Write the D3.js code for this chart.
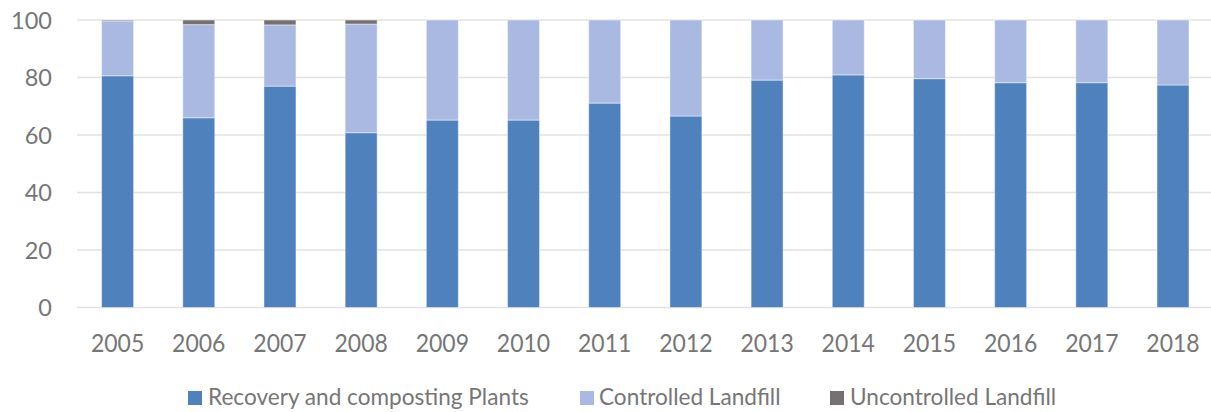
<!DOCTYPE html>
<html>
<head>
<meta charset="utf-8">
<script src="https://cdn.jsdelivr.net/npm/d3@7"></script>
<style>
  html, body { margin: 0; padding: 0; background: #fff; }
  svg { display: block; }
  text { font-family: Lato, "Open Sans", sans-serif; fill: #767676; }
</style>
</head>
<body>
<svg id="chart" width="1211" height="412"></svg>
<script>
// Share of waste by treatment route (%), 2005–2018
const years = ["2005","2006","2007","2008","2009","2010","2011","2012","2013","2014","2015","2016","2017","2018"];
const recovery     = [80.6, 66.0, 77.0, 60.8, 65.2, 65.2, 71.1, 66.6, 79.1, 80.9, 79.6, 78.2, 78.2, 77.4];
const controlled   = [19.1, 32.4, 21.3, 37.8, 34.8, 34.8, 28.9, 33.4, 20.9, 19.1, 20.4, 21.8, 21.8, 22.6];
const uncontrolled = [0.3, 1.6, 1.7, 1.4, 0, 0, 0, 0, 0, 0, 0, 0, 0, 0];
const seriesNames  = ["Recovery and composting Plants", "Controlled Landfill", "Uncontrolled Landfill"];
const yTicks       = [0, 20, 40, 60, 80, 100];

const colors = ["#4F81BD", "#A9B9E2", "#767171"];
const keys = ["rec", "ctl", "unc"];

const rows = years.map((y, i) => ({ year: y, rec: recovery[i], ctl: controlled[i], unc: uncontrolled[i] }));
const stacked = d3.stack().keys(keys)(rows);

const svg = d3.select("#chart");
const W = 1211;
const plot = { left: 77, right: 1213.6, top: 20, bottom: 307.5 };

const x = d3.scaleBand().domain(years).range([plot.left, plot.right]).paddingInner(0.606).paddingOuter(0.303);
const y = d3.scaleLinear().domain([0, 100]).range([plot.bottom, plot.top]);

// Horizontal gridlines
svg.append("g")
  .selectAll("line")
  .data(yTicks)
  .join("line")
  .attr("x1", plot.left)
  .attr("x2", W)
  .attr("y1", d => y(d))
  .attr("y2", d => y(d))
  .attr("stroke", "#e2e2e2")
  .attr("stroke-width", 1.6);

// Y axis labels
const yAxis = d3.axisLeft(y).tickValues(yTicks).tickSize(0).tickPadding(0);
const gy = svg.append("g").attr("transform", "translate(52,0)").call(yAxis);
gy.select(".domain").remove();
gy.selectAll("text")
  .attr("font-size", 23.5)
  .attr("font-family", "Lato, 'Open Sans', sans-serif")
  .attr("fill", "#767676")
  .attr("dy", "0.36em");

// Stacked bars
svg.append("g")
  .selectAll("g")
  .data(stacked)
  .join("g")
  .attr("fill", (d, i) => colors[i])
  .selectAll("rect")
  .data(d => d)
  .join("rect")
  .attr("x", d => x(d.data.year))
  .attr("width", x.bandwidth())
  .attr("y", d => y(d[1]))
  .attr("height", d => Math.max(0, y(d[0]) - y(d[1])))
  .attr("stroke", "#ffffff")
  .attr("stroke-opacity", 0.45)
  .attr("stroke-width", 1);

// X axis labels
const xAxis = d3.axisBottom(x).tickSize(0).tickPadding(0);
const gx = svg.append("g").attr("transform", "translate(0,351.5)").call(xAxis);
gx.select(".domain").remove();
gx.selectAll("text")
  .attr("font-size", 23)
  .attr("font-family", "Lato, 'Open Sans', sans-serif")
  .attr("fill", "#767676")
  .attr("dy", 0)
  .attr("transform", "scale(1,1.12)")
  .attr("transform-origin", "0 0");

// Legend
const legendItems = [
  { name: seriesNames[0], color: colors[0], mx: 188, tx: 208 },
  { name: seriesNames[1], color: colors[1], mx: 580, tx: 599 },
  { name: seriesNames[2], color: colors[2], mx: 830, tx: 850 }
];
const lg = svg.append("g");
lg.selectAll("rect")
  .data(legendItems)
  .join("rect")
  .attr("x", d => d.mx)
  .attr("y", 391)
  .attr("width", 14)
  .attr("height", 14)
  .attr("fill", d => d.color);
lg.selectAll("text")
  .data(legendItems)
  .join("text")
  .attr("x", d => d.tx)
  .attr("y", 405)
  .attr("font-size", 22.6)
  .text(d => d.name);
</script>
</body>
</html>
